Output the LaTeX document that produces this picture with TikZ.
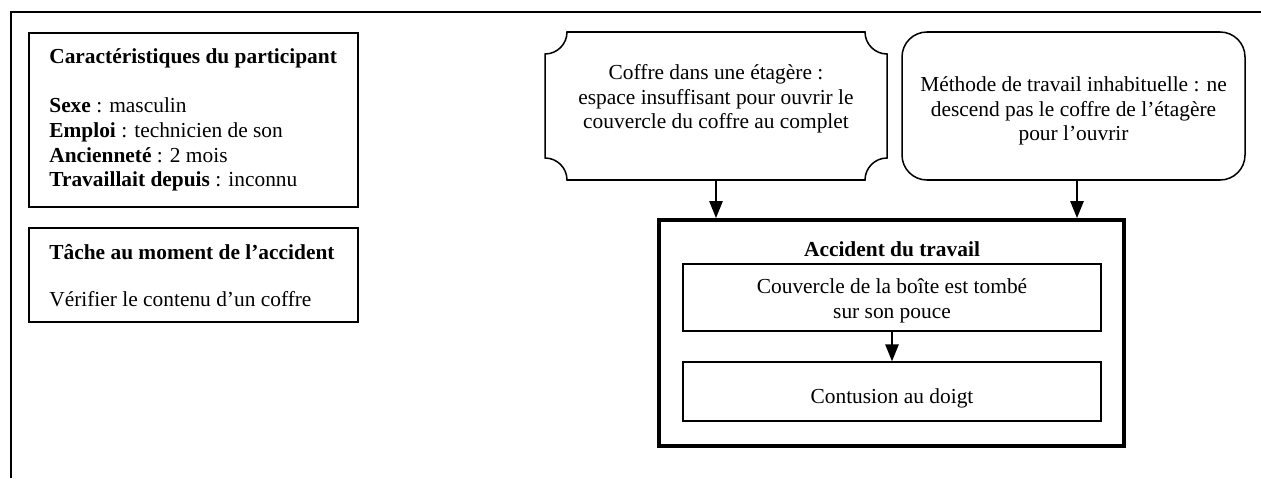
\documentclass[tikz,border=0pt]{standalone}
\usepackage{fontspec}
\setmainfont{Liberation Serif}
\usetikzlibrary{arrows.meta,fit,calc}
\begin{document}
\begin{tikzpicture}[x=0.561pt,y=-0.561pt,
  box/.style={draw,line width=0.8pt,inner sep=0pt},
  thickbox/.style={draw,line width=2.2pt,inner sep=0pt},
  txt/.style={inner sep=0pt,font=\fontsize{12pt}{13.8pt}\selectfont},
  arr/.style={line width=0.85pt,-{Triangle[length=9.5pt,width=7.5pt]}},
  frameline/.style={line width=0.85pt}]
\useasboundingbox (0,0) rectangle (1261,478);

% page frame (top and left rules)
\draw[frameline] (1261,12) -- (11,12) -- (11,478);

% participant profile
\node[box,fit={(29,33)(358,207)}] (chars) {};
\node[txt,anchor=north west,align=left] (charstext) at (49,48.5)
  {\textbf{Caractéristiques du participant}\\[13.8pt]
   \textbf{Sexe} : masculin\\
   \textbf{Emploi} : technicien de son\\
   \textbf{Ancienneté} : 2 mois\\
   \textbf{Travaillait depuis} : inconnu};

% task
\node[box,fit={(29,228)(358,322)}] (task) {};
\node[txt,anchor=north west,align=left] (tasktext) at (49,244)
  {\textbf{Tâche au moment de l’accident}\\[12.6pt]
   Vérifier le contenu d’un coffre};

% plaque-shaped cause box
\node[inner sep=0pt,fit={(545,32)(887,180)}] (plaque) {};
\draw[line width=0.85pt] (567,32) -- (865,32)
  .. controls (865,44.1) and (874.9,54) .. (887,54) -- (887,158)
  .. controls (874.9,158) and (865,167.9) .. (865,180) -- (567,180)
  .. controls (567,167.9) and (557.1,158) .. (545,158) -- (545,54)
  .. controls (557.1,54) and (567,44.1) .. (567,32) -- cycle;
\node[txt,align=center] (plaquetext) at (716,99)
  {Coffre dans une étagère :\\
   espace insuffisant pour ouvrir le\\
   couvercle du coffre au complet};

% rounded cause box
\node[box,line width=0.85pt,rounded corners=14pt,fit={(902,32)(1245,180)}] (habit) {};
\node[txt,align=center] (habittext) at (1073.5,111)
  {Méthode de travail inhabituelle : ne\\
   descend pas le coffre de l’étagère\\
   pour l’ouvrir};

% accident
\node[thickbox,fit={(659,220)(1124,446)}] (acc) {};
\node[txt,font=\fontsize{12pt}{13.8pt}\selectfont\bfseries] (acctitle) at (892,249) {Accident du travail};
\node[box,fit={(683,264)(1101,331)}] (fall) {};
\node[txt,align=center,font=\fontsize{12pt}{14.2pt}\selectfont] (falltext) at ($(fall.center)+(0,3.5)$)
  {Couvercle de la boîte est tombé\\ sur son pouce};
\node[box,fit={(683,362)(1101,421)}] (bruise) {};
\node[txt] (bruisetext) at ($(bruise.center)+(0,7)$) {Contusion au doigt};

% connectors
\draw[arr] (plaque.south) -- (plaque.south |- acc.north);
\draw[arr] ($(habit.south)+(3.5,0)$) -- ($(habit.south |- acc.north)+(3.5,0)$);
\draw[arr] (fall.south) -- (bruise.north);
\end{tikzpicture}
\end{document}
